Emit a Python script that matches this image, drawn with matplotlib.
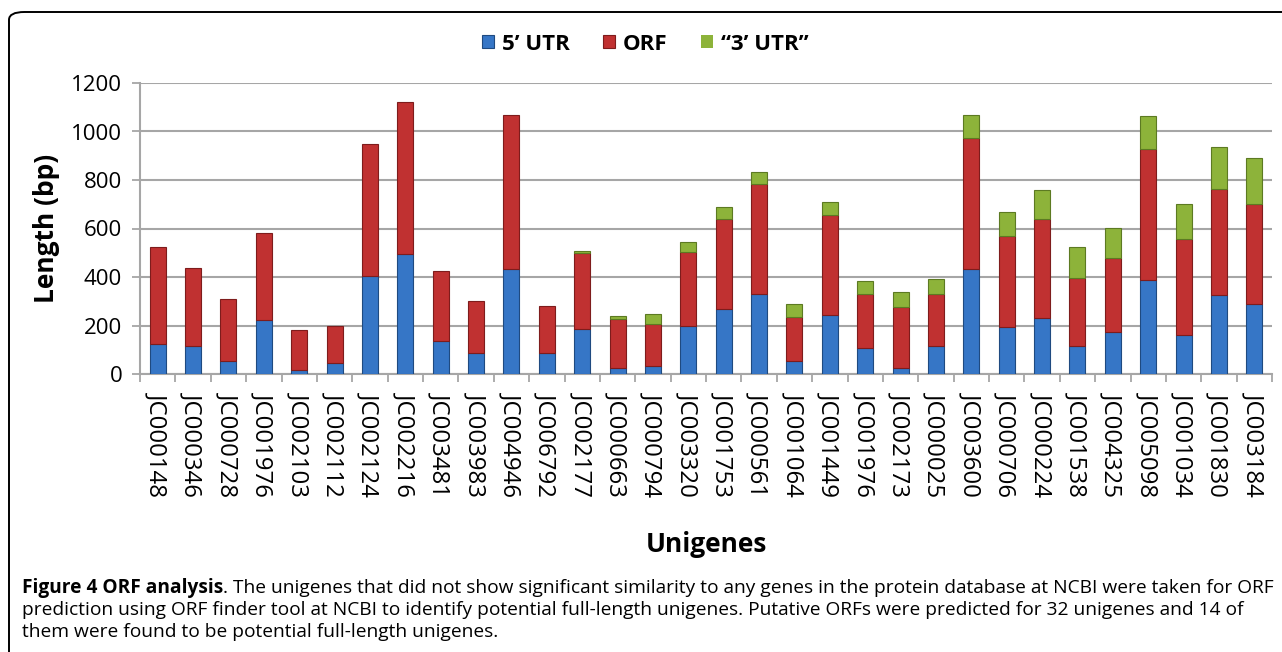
import matplotlib
matplotlib.use("Agg")
import matplotlib.pyplot as plt
from matplotlib.patches import FancyBboxPatch
import numpy as np

categories = ["JC000148", "JC000346", "JC000728", "JC001976", "JC002103", "JC002112",
              "JC002124", "JC002216", "JC003481", "JC003983", "JC004946", "JC006792",
              "JC002177", "JC000663", "JC000794", "JC003320", "JC001753", "JC000561",
              "JC001064", "JC001449", "JC001976", "JC002173", "JC000025", "JC003600",
              "JC000706", "JC000224", "JC001538", "JC004325", "JC005098", "JC001034",
              "JC001830", "JC003184"]
utr5 = [123, 116, 55, 223, 18, 47, 404, 496, 138, 85, 433, 85, 185, 23, 32, 199,
        268, 329, 55, 244, 108, 23, 116, 433, 192, 229, 116, 175, 388, 160, 326, 289]
orf = [399, 322, 255, 359, 164, 152, 544, 625, 285, 218, 635, 194, 316, 204, 176, 304,
       372, 455, 182, 411, 221, 252, 213, 540, 378, 411, 279, 304, 538, 396, 436, 410]
utr3 = [0, 0, 0, 0, 0, 0, 0, 0, 0, 0, 0, 0, 6, 13, 40, 41,
        49, 50, 51, 56, 56, 65, 63, 95, 96, 118, 127, 125, 136, 147, 176, 193]
series_names = ["5\u2019 UTR", "ORF", "\u201c3\u2019 UTR\u201d"]
yticks = [0, 200, 400, 600, 800, 1000, 1200]

plt.rcParams['font.family'] = ['Open Sans', 'DejaVu Sans']

W, H = 1282, 652
fig = plt.figure(figsize=(W / 100, H / 100), dpi=100)
ax = fig.add_axes([140 / W, 1 - 374 / H, (1272 - 140) / W, (374 - 83) / H])

x = np.arange(len(categories))
a5 = np.array(utr5)
ao = np.array(orf)
a3 = np.array(utr3)
bw = 0.45
colors = ["#3676C6", "#C03131", "#8DB33A"]
edges = ["#1F4A80", "#7E1C1C", "#5C7A22"]
lw3 = [0.8 if v > 0 else 0 for v in utr3]
b1 = ax.bar(x, a5, bw, color=colors[0], edgecolor=edges[0], linewidth=0.8, label=series_names[0], zorder=3)
b2 = ax.bar(x, ao, bw, bottom=a5, color=colors[1], edgecolor=edges[1], linewidth=0.8, label=series_names[1], zorder=3)
b3 = ax.bar(x, a3, bw, bottom=a5 + ao, color=colors[2], edgecolor=edges[2], linewidth=lw3, label=series_names[2], zorder=3)

ax.set_xlim(-0.5, len(categories) - 0.5)
ax.set_ylim(0, 1200)
ax.set_yticks(yticks)
ax.set_yticklabels([str(v) for v in yticks], fontsize=16)
ax.yaxis.grid(True, color="#A6A6A6", linewidth=1.5, zorder=0)
ax.set_axisbelow(True)

ax.set_xticks(x)
ax.set_xticklabels(categories, rotation=-90, fontsize=17.3, va="top", ha="center")
ax.set_xticks(np.arange(-0.5, len(categories) + 0.5, 1), minor=True)
ax.tick_params(axis="x", which="major", length=0, pad=13)
ax.tick_params(axis="x", which="minor", length=5.5, width=1.3, color="#A6A6A6")
ax.tick_params(axis="y", length=5.8, width=1.3, color="#A6A6A6", pad=7)

for s in ["top", "right"]:
    ax.spines[s].set_visible(False)
for s in ["left", "bottom"]:
    ax.spines[s].set_color("#A6A6A6")
    ax.spines[s].set_linewidth(1.5)

ax.set_ylabel("Length (bp)", fontsize=19, fontweight="bold", labelpad=8)
ax.set_xlabel("Unigenes", fontsize=19, fontweight="bold", labelpad=25)

fig.legend(handles=[b1, b2, b3], labels=series_names, loc="center",
           bbox_to_anchor=(645 / W, 1 - 44 / H), ncol=3, frameon=False,
           prop={"weight": "bold", "size": 16}, handlelength=0.55, handleheight=0.55,
           handletextpad=0.35, columnspacing=1.5)

# frame around figure
box = FancyBboxPatch((9 / W, -0.05), 1.2, 1 - 12 / H + 0.05,
                     boxstyle="round,pad=0,rounding_size=0.012",
                     transform=fig.transFigure, fill=False, edgecolor="black",
                     linewidth=1.4, clip_on=False)
fig.patches.append(box)

cap_fs = 13.8
t0 = fig.text(22 / W, 1 - 588 / H, "Figure 4 ORF analysis", fontsize=cap_fs, fontweight="bold", va="center", ha="left")
fig.canvas.draw()
bb = t0.get_window_extent()
fig.text(bb.x1 / W, 1 - 588 / H,
         ". The unigenes that did not show significant similarity to any genes in the protein database at NCBI were taken for ORF",
         fontsize=cap_fs, va="center", ha="left")
fig.text(22 / W, 1 - 610 / H,
         "prediction using ORF finder tool at NCBI to identify potential full-length unigenes. Putative ORFs were predicted for 32 unigenes and 14 of",
         fontsize=cap_fs, va="center", ha="left")
fig.text(22 / W, 1 - 632 / H,
         "them were found to be potential full-length unigenes.",
         fontsize=cap_fs, va="center", ha="left")

fig.savefig("out.png", dpi=100)
